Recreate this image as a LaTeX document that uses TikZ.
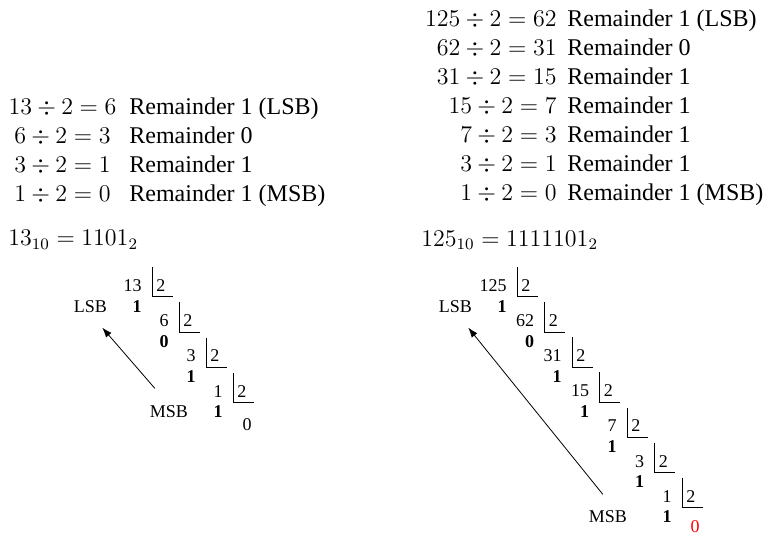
\documentclass[tikz,border=0pt]{standalone}
\usepackage[no-math]{fontspec}
\setmainfont{Liberation Serif}
\usepackage{amsmath}
\usetikzlibrary{arrows.meta, positioning, calc}

\begin{document}
\begin{tikzpicture}[x=0.5pt, y=-0.5pt, inner sep=0pt]
\tikzstyle{eqn} = [font=\fontsize{12}{14.5}\selectfont]
\tikzstyle{rem} = [font=\fontsize{12}{14.5}\selectfont, anchor=base west]
\tikzstyle{num} = [font=\fontsize{9}{11}\selectfont]
\tikzstyle{bit} = [font=\fontsize{9}{11}\selectfont\bfseries, anchor=base east]
\tikzstyle{bracket} = [draw, line width=0.5pt]
\tikzstyle{line} = [draw, -{Latex[length=5pt,width=3.5pt]}, line width=0.4pt]

\useasboundingbox (0,0) rectangle (765,538);

% left: 13 in steps
\foreach \a/\b/\r [count=\i from 0] in {13/6/1 (LSB), 6/3/0, 3/1/1, 1/0/1 (MSB)} {
    \node (le\i) [eqn, anchor=base] at (62.5,114+29*\i) {$\a \div 2 = \b$};
    \node (lr\i) [rem] at (129,114+29*\i) {Remainder \r};
}
\node (lres) [eqn, anchor=base west] at (8,245.5) {$13_{10} = 1101_2$};

% right: 125 in steps
\foreach \a/\b/\r [count=\i from 0] in {125/62/1 (LSB), 62/31/0, 31/15/1, 15/7/1, 7/3/1, 3/1/1, 1/0/1 (MSB)} {
    \node (re\i) [eqn, anchor=base east] at (557,26+29*\i) {$\a \div 2 = \b$};
    \node (rr\i) [rem] at (567,26+29*\i) {Remainder \r};
}
\node (rres) [eqn, anchor=base west] at (421,246) {$125_{10} = 1111101_2$};

% left ladder
\foreach \n/\r [count=\k from 0] in {13/1, 6/0, 3/1, 1/1} {
    \node (ld\k) [num, anchor=base east] at (142+27*\k, 291.5+35.2*\k) {\n};
    \node (lq\k) [num, anchor=base west] at (156+27*\k, 291.5+35.2*\k) {2};
    \node (lb\k) [bit] at (142+27*\k, 312+35.2*\k) {\r};
    \draw [bracket] ([shift={(-2pt,6pt)}]lq\k.north west) |- ([shift={(3.5pt,-2.5pt)}]lq\k.south east);
}
\node (lzero) [num, anchor=base east] at (252,430) {0};
\node (llsb) [num, base left=12.5pt of lb0] {LSB};
\node (lmsb) [num, base left=12.5pt of lb3] {MSB};
\draw [line] ([shift={(-7pt,8.5pt)}]lmsb.north) -- ([shift={(-2.5pt,-7.5pt)}]llsb.south east);

% right ladder
\foreach \n/\r [count=\k from 0] in {125/1, 62/0, 31/1, 15/1, 7/1, 3/1, 1/1} {
    \node (rd\k) [num, anchor=base east] at (507+27.5*\k, 291.5+35.1*\k) {\n};
    \node (rq\k) [num, anchor=base west] at (521+27.5*\k, 291.5+35.1*\k) {2};
    \node (rb\k) [bit] at (507+27.5*\k, 312+35.1*\k) {\r};
    \draw [bracket] ([shift={(-2pt,6pt)}]rq\k.north west) |- ([shift={(3.5pt,-2.5pt)}]rq\k.south east);
}
\node (rzero) [num, anchor=base east, text=red] at (700,532) {0};
\node (rlsb) [num, base left=12.5pt of rb0] {LSB};
\node (rmsb) [num, base left=17.5pt of rb6] {MSB};
\draw [line] ([shift={(-2.5pt,8pt)}]rmsb.north) -- ([shift={(-2pt,-7.5pt)}]rlsb.south east);
\end{tikzpicture}
\end{document}
